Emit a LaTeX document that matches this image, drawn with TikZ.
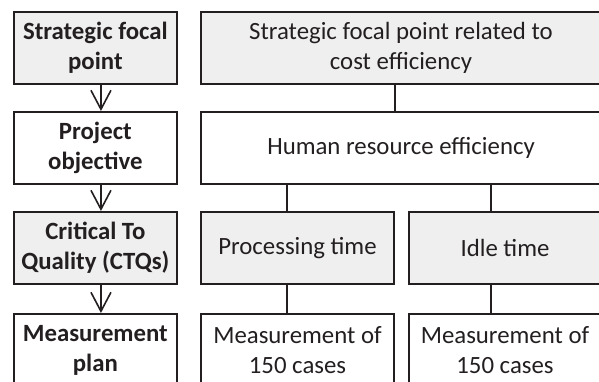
\documentclass[tikz,border=0pt]{standalone}
\usepackage{fontspec}
\setmainfont{Carlito}
\usetikzlibrary{arrows.meta}
\definecolor{boxfill}{HTML}{EFEFEF}
\definecolor{ink}{HTML}{231F20}
\tikzset{
  box/.style={draw=ink, line width=1pt, text=ink, align=center, inner sep=0pt,
    minimum height=36pt, font=\fontsize{12.4}{15}\selectfont},
  shaded/.style={box, fill=boxfill},
  level/.style={minimum width=81.35pt, font=\fontsize{12.4}{15}\selectfont\bfseries},
  flow/.style={draw=ink, line width=0.8pt, -{Straight Barb[length=9.5pt,width=10pt,line width=0.8pt]}},
  link/.style={draw=ink, line width=0.8pt}
}

\begin{document}
\begin{tikzpicture}[x=0.5pt, y=-0.5pt]
      \useasboundingbox (0,0) rectangle (599,381);
      % left column
      \node[shaded, level] (sfp) at (95.35,48) {Strategic focal\\point};
      \node[box, level] (obj) at (95.35,148) {Project\\objective};
      \node[shaded, level] (ctq) at (95.35,248) {Critical To\\Quality (CTQs)};
      \node[box, level] (plan) at (95.35,350) {Measurement\\plan};
      % right side
      \node[shaded, minimum width=200pt] (focal) at (401,48) {Strategic focal point related to\\cost efficiency};
      \node[box, minimum width=200pt] (hr) at (401,148) {Human resource efficiency};
      \node[shaded, minimum width=96.5pt] (proc) at (297.5,248) {Processing time};
      \node[shaded, minimum width=96pt] (idle) at (505,248) {Idle time};
      \node[box, minimum width=96.5pt] (meas1) at (297.5,350) {Measurement of\\150 cases};
      \node[box, minimum width=96pt] (meas2) at (505,350) {Measurement of\\150 cases};
      % arrows
      \draw[flow] ([xshift=2.8pt]sfp.south) -- ([xshift=2.8pt]obj.north);
      \draw[flow] ([xshift=2.8pt]obj.south) -- ([xshift=2.8pt]ctq.north);
      \draw[flow] ([xshift=2.8pt]ctq.south) -- ([xshift=2.8pt]plan.north);
      % links
      \draw[link] ([xshift=-3pt]focal.south) -- ([xshift=-3pt]hr.north);
      \draw[link] ([xshift=-5.25pt]proc.north |- hr.south) -- ([xshift=-5.25pt]proc.north);
      \draw[link] ([xshift=-7pt]idle.north |- hr.south) -- ([xshift=-7pt]idle.north);
      \draw[link] ([xshift=-5.25pt]proc.south) -- ([xshift=-5.25pt]meas1.north);
      \draw[link] ([xshift=-7pt]idle.south) -- ([xshift=-7pt]meas2.north);
\end{tikzpicture}
\end{document}
